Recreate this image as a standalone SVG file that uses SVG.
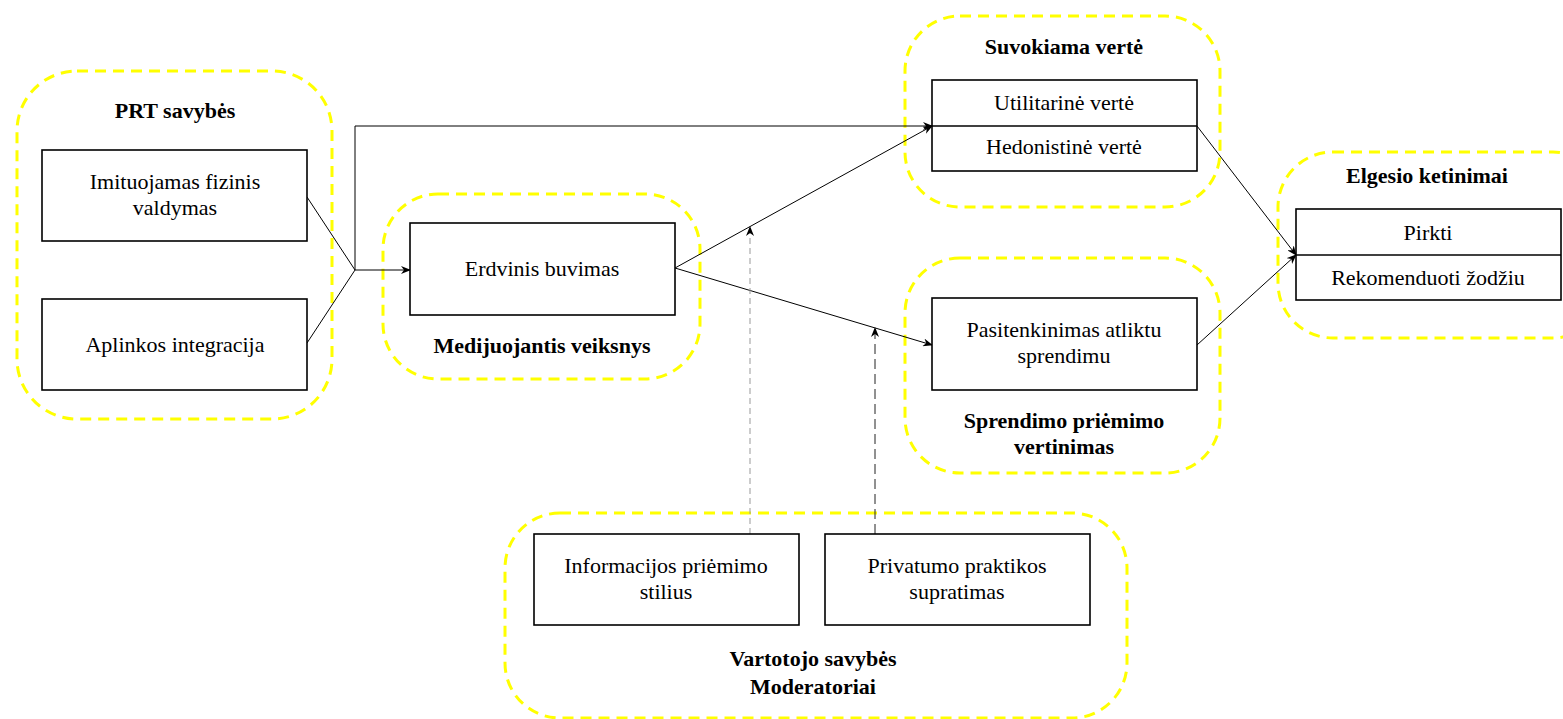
<svg xmlns="http://www.w3.org/2000/svg" width="1563" height="719" viewBox="0 0 1563 719">
<style>
.grp{fill:none;stroke:#ffff00;stroke-width:3;stroke-dasharray:11 7}
.box{fill:#fff;stroke:#000;stroke-width:1.6}
.t{font-family:"Liberation Serif",serif;font-size:22px;fill:#000;text-anchor:middle}
.b{font-family:"Liberation Serif",serif;font-size:22px;font-weight:bold;fill:#000;text-anchor:middle}
.c{fill:none;stroke:#000;stroke-width:1}
.m1{fill:none;stroke:#999;stroke-width:1;stroke-dasharray:6 4}
.m2{fill:none;stroke:#222;stroke-width:1;stroke-dasharray:10 5}
</style>
<defs>
<marker id="a" markerWidth="10" markerHeight="8" refX="9" refY="4" orient="auto" markerUnits="userSpaceOnUse">
<path d="M0,0 L10,4 L0,8 L3,4 Z" fill="#000"/>
</marker>
</defs>
<rect width="1563" height="719" fill="#fff"/>

<g id="grp-prt">
<rect class="grp" x="17" y="71" width="315" height="348" rx="60"/>
<text class="b" x="175" y="118">PRT savybės</text>
</g>
<g id="grp-med">
<rect class="grp" x="383" y="194" width="317" height="185" rx="55"/>
<text class="b" x="542" y="353">Medijuojantis veiksnys</text>
</g>
<g id="grp-suv">
<rect class="grp" x="905" y="16" width="315" height="191" rx="55"/>
<text class="b" x="1064" y="54">Suvokiama vertė</text>
</g>
<g id="grp-spr">
<rect class="grp" x="905" y="258" width="315" height="215" rx="55"/>
<text class="b" x="1064" y="428">Sprendimo priėmimo</text>
<text class="b" x="1064" y="454">vertinimas</text>
</g>
<g id="grp-elg">
<rect class="grp" x="1278" y="152" width="330" height="186" rx="55"/>
<text class="b" x="1427" y="183">Elgesio ketinimai</text>
</g>
<g id="grp-var">
<rect class="grp" x="505" y="513" width="622" height="205" rx="55"/>
<text class="b" x="813" y="666">Vartotojo savybės</text>
<text class="b" x="813" y="694">Moderatoriai</text>
</g>

<g id="connectors">
<path class="c" d="M307,197 L355,270 L307,343"/>
<path class="c" d="M355,270 L410,270" marker-end="url(#a)"/>
<path class="c" d="M355,270 L355,126 L932,126" marker-end="url(#a)"/>
<path class="c" d="M675,268 L932,126" marker-end="url(#a)"/>
<path class="c" d="M675,268 L932,345" marker-end="url(#a)"/>
<path class="c" d="M1197,126 L1296,255" marker-end="url(#a)"/>
<path class="c" d="M1197,345 L1296,255" marker-end="url(#a)"/>
<path class="m1" d="M750,534 L750,227" marker-end="url(#a)"/>
<path class="m2" d="M875,534 L875,328" marker-end="url(#a)"/>
</g>

<g id="n-imit">
<rect class="box" x="42" y="150" width="265" height="91"/>
<text class="t" x="175" y="189">Imituojamas fizinis</text>
<text class="t" x="175" y="215">valdymas</text>
</g>
<g id="n-apl">
<rect class="box" x="42" y="299" width="265" height="91"/>
<text class="t" x="175" y="352">Aplinkos integracija</text>
</g>
<g id="n-erd">
<rect class="box" x="410" y="223" width="265" height="92"/>
<text class="t" x="542" y="276">Erdvinis buvimas</text>
</g>
<g id="n-suv">
<rect class="box" x="932" y="80" width="265" height="91"/>
<line x1="932" y1="126" x2="1197" y2="126" stroke="#000" stroke-width="1.6"/>
<text class="t" x="1064" y="110">Utilitarinė vertė</text>
<text class="t" x="1064" y="154">Hedonistinė vertė</text>
</g>
<g id="n-pas">
<rect class="box" x="932" y="298" width="265" height="92"/>
<text class="t" x="1064" y="337">Pasitenkinimas atliktu</text>
<text class="t" x="1064" y="363">sprendimu</text>
</g>
<g id="n-elg">
<rect class="box" x="1296" y="209" width="265" height="91"/>
<line x1="1296" y1="255" x2="1561" y2="255" stroke="#000" stroke-width="1.6"/>
<text class="t" x="1428" y="240">Pirkti</text>
<text class="t" x="1428" y="285">Rekomenduoti žodžiu</text>
</g>
<g id="n-inf">
<rect class="box" x="534" y="534" width="265" height="91"/>
<text class="t" x="666" y="573">Informacijos priėmimo</text>
<text class="t" x="666" y="599">stilius</text>
</g>
<g id="n-priv">
<rect class="box" x="825" y="534" width="265" height="91"/>
<text class="t" x="957" y="573">Privatumo praktikos</text>
<text class="t" x="957" y="599">supratimas</text>
</g>
</svg>
